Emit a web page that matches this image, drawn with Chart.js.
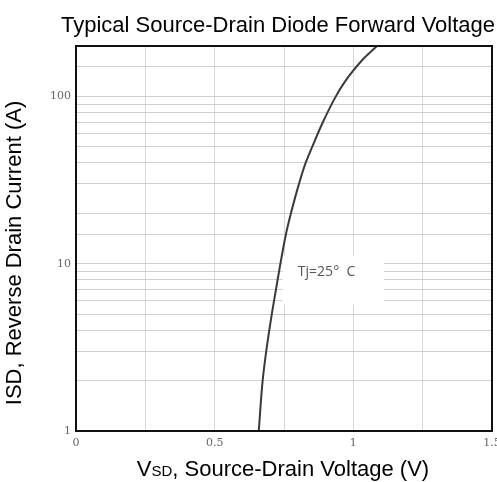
<!DOCTYPE html>
<html>
<head>
<meta charset="utf-8">
<script src="https://cdn.jsdelivr.net/npm/chart.js@4.4.1/dist/chart.umd.min.js"></script>
<style>
  html, body { margin: 0; padding: 0; background: #fff; }
  canvas { display: block; }
</style>
</head>
<body>
<canvas id="diodeChart" width="497" height="482"></canvas>
<script>
// values
const vsd = [0.659, 0.673, 0.686, 0.706, 0.721, 0.737, 0.757, 0.775, 0.804, 0.828, 0.852, 0.890, 0.937, 0.966, 0.996, 1.040, 1.085];
const isd = [1, 2, 3, 5, 7, 10, 15, 20, 30, 40, 50, 70, 100, 120, 140, 170, 200];
const yTickLabels = [1, 10, 100];
const xTickLabels = [0, 0.5, 1, 1.5];

const chartTitle = "Typical Source-Drain Diode Forward Voltage";
const curveLabel = "Tj=25\u00b0  C";

const sansFont = "'Liberation Sans', Arial, sans-serif";

// draws the frame, the label with its white patch, and the titles
const decorPlugin = {
  id: "decor",
  beforeDatasetsDraw(chart) {
    const { ctx, scales: { x, y } } = chart;
    // white patch behind the Tj label
    const x0 = x.getPixelForValue(0.745), x1 = x.getPixelForValue(1.11);
    const y0 = y.getPixelForValue(11.1), y1 = y.getPixelForValue(5.7);
    ctx.save();
    ctx.fillStyle = "#fff";
    ctx.fillRect(x0, y0, x1 - x0, y1 - y0);
    ctx.restore();
  },
  afterDraw(chart) {
    const { ctx, chartArea: a, scales: { x, y } } = chart;
    ctx.save();
    ctx.strokeStyle = "#111";
    ctx.lineWidth = 2;
    ctx.strokeRect(a.left, a.top, a.right - a.left, a.bottom - a.top);

    // Tj label
    ctx.fillStyle = "#555";
    ctx.font = "14px 'Open Sans', sans-serif";
    ctx.textBaseline = "alphabetic";
    ctx.textAlign = "left";
    ctx.fillText(curveLabel, x.getPixelForValue(0.8), y.getPixelForValue(8.4));

    // main title
    ctx.fillStyle = "#000";
    ctx.font = "22px " + sansFont;
    ctx.textAlign = "center";
    ctx.fillText(chartTitle, 278, 32);

    // x axis title with small "SD"
    const parts = [["V", 22], ["SD", 15], [", Source-Drain Voltage (V)", 22]];
    let total = 0;
    parts.forEach(p => { ctx.font = p[1] + "px " + sansFont; total += ctx.measureText(p[0]).width; });
    let px = 283 - total / 2;
    ctx.textAlign = "left";
    parts.forEach(p => {
      ctx.font = p[1] + "px " + sansFont;
      ctx.fillText(p[0], px, 476);
      px += ctx.measureText(p[0]).width;
    });

    // y axis title
    ctx.translate(21, 253);
    ctx.rotate(-Math.PI / 2);
    ctx.font = "22px " + sansFont;
    ctx.textAlign = "center";
    ctx.fillText("ISD, Reverse Drain Current (A)", 0, 0);
    ctx.restore();
  }
};

new Chart(document.getElementById("diodeChart"), {
  type: "line",
  data: {
    datasets: [{
      data: vsd.map((v, i) => ({ x: v, y: isd[i] })),
      borderColor: "#3a3a3a",
      borderWidth: 2,
      pointRadius: 0,
      cubicInterpolationMode: "monotone",
      fill: false
    }]
  },
  options: {
    responsive: false,
    animation: false,
    indexAxis: "y",
    layout: { padding: { left: 46, top: 46, right: 5, bottom: 29 } },
    plugins: {
      legend: { display: false },
      tooltip: { enabled: false },
      title: { display: false }
    },
    scales: {
      x: {
        type: "linear",
        position: "bottom",
        min: 0,
        max: 1.5,
        afterFit(scale) { scale.height = 22; scale.paddingLeft = 0; scale.paddingRight = 0; },
        grid: { color: "#d6d6d6", lineWidth: 1, drawTicks: false },
        border: { display: false },
        ticks: {
          stepSize: 0.25,
          autoSkip: false,
          maxRotation: 0,
          padding: 6,
          color: "#666",
          font: { family: "'DejaVu Serif', serif", size: 11 },
          callback: (v) => xTickLabels.includes(v) ? String(v) : ""
        }
      },
      y: {
        type: "logarithmic",
        position: "left",
        min: 1,
        max: 200,
        afterFit(scale) { scale.width = 30; scale.paddingTop = 0; scale.paddingBottom = 0; },
        grid: { color: "#cfcfcf", lineWidth: 1, drawTicks: false },
        border: { display: false },
        ticks: {
          autoSkip: false,
          padding: 5,
          color: "#666",
          font: { family: "'DejaVu Serif', serif", size: 11 },
          callback: (v) => yTickLabels.includes(v) ? String(v) : ""
        }
      }
    }
  },
  plugins: [decorPlugin]
});
</script>
</body>
</html>
